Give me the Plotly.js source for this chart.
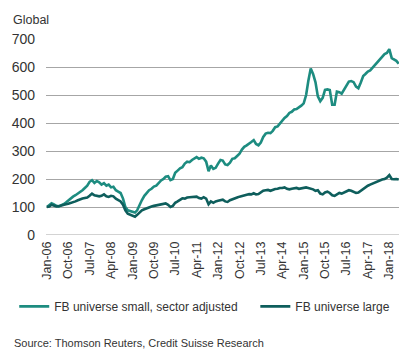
<!DOCTYPE html>
<html>
<head>
<meta charset="utf-8">
<script src="https://cdn.plot.ly/plotly-3.0.1.min.js"></script>
<style>
html,body{margin:0;padding:0;background:#fff;}
#chart{width:416px;height:357px;}
</style>
</head>
<body>
<div id="chart"></div>
<script>
// Monthly observations, Jan-06 .. May-18
const startYear = 2006;
const smallSectorAdjusted = [
  100, 106, 113, 109, 104, 102, 105, 110, 116, 124, 130, 137,   // 2006
  142, 148, 152, 160, 168, 176, 190, 196, 186, 193, 188, 180,   // 2007
  185, 176, 180, 170, 172, 160, 155, 150, 130, 100, 88, 85,     // 2008
  82, 80, 88, 110, 125, 140, 150, 160, 165, 173, 176, 185,      // 2009
  195, 200, 208, 210, 196, 200, 222, 230, 238, 242, 255, 262,   // 2010
  260, 268, 274, 278, 272, 276, 274, 262, 228, 248, 236, 240,   // 2011
  255, 268, 266, 252, 250, 258, 272, 274, 282, 290, 305, 315,   // 2012
  320, 325, 332, 339, 325, 320, 330, 350, 362, 365, 364, 372,   // 2013
  385, 388, 398, 410, 418, 425, 436, 440, 448, 450, 455, 462,   // 2014
  470, 500, 550, 595, 575, 545, 495, 478, 490, 518, 520, 518,   // 2015
  465, 465, 512, 510, 505, 520, 535, 548, 550, 546, 530, 524,   // 2016
  545, 568, 575, 584, 588, 598, 608, 614, 628, 636, 646, 650,   // 2017
  664, 632, 628, 622, 612                                       // 2018
];
const largeUniverse = [
  100, 102, 108, 104, 102, 103, 106, 108, 110, 112, 114, 118,   // 2006
  120, 124, 128, 130, 132, 134, 140, 148, 142, 140, 138, 140,   // 2007
  145, 138, 136, 140, 138, 130, 125, 120, 108, 88, 76, 72,      // 2008
  68, 65, 72, 82, 88, 92, 96, 100, 102, 104, 106, 108,          // 2009
  110, 112, 113, 108, 100, 104, 115, 120, 125, 131, 130, 134,   // 2010
  135, 136, 138, 137, 132, 130, 135, 130, 110, 120, 115, 120,   // 2011
  122, 124, 126, 120, 118, 124, 128, 130, 134, 137, 140, 142,   // 2012
  144, 146, 145, 149, 145, 146, 152, 158, 160, 161, 158, 162,   // 2013
  164, 165, 168, 168, 170, 165, 163, 165, 166, 168, 165, 166,   // 2014
  167, 170, 168, 166, 163, 158, 160, 148, 145, 152, 155, 150,   // 2015
  142, 140, 146, 150, 148, 152, 156, 160, 158, 154, 150, 152,   // 2016
  158, 165, 172, 176, 180, 184, 188, 192, 195, 198, 200, 205,   // 2017
  214, 200, 199, 200, 198                                       // 2018
];
const seriesNames = ["FB universe small, sector adjusted", "FB universe large"];
const seriesColors = ["#1d8c80", "#0e5e5c"];
const yTicks = [0, 100, 200, 300, 400, 500, 600, 700];
const unitLabel = "Global";
const sourceText = "Source: Thomson Reuters, Credit Suisse Research";

function monthDates(n) {
  const out = [];
  for (let i = 0; i < n; i++) {
    const y = startYear + Math.floor(i / 12);
    const m = (i % 12) + 1;
    out.push(y + "-" + String(m).padStart(2, "0") + "-01");
  }
  return out;
}
const dates = monthDates(smallSectorAdjusted.length);

const font = {family: "Liberation Sans, Arial, sans-serif", color: "#333333"};

const traces = [
  {x: dates, y: smallSectorAdjusted, name: seriesNames[0], type: "scatter", mode: "lines",
   legend: "legend", line: {color: seriesColors[0], width: 2.6}},
  {x: dates, y: largeUniverse, name: seriesNames[1], type: "scatter", mode: "lines",
   legend: "legend2", line: {color: seriesColors[1], width: 2.6}}
];

const legendBase = {
  orientation: "h", xanchor: "left", y: -0.29, yanchor: "top",
  font: Object.assign({size: 12}, font), bgcolor: "rgba(0,0,0,0)"
};

const layout = {
  width: 416, height: 357,
  margin: {l: 46, r: 17, t: 39, b: 122},
  paper_bgcolor: "#ffffff", plot_bgcolor: "#ffffff",
  font: Object.assign({size: 12}, font),
  showlegend: true,
  legend: Object.assign({x: -0.09}, legendBase),
  legend2: Object.assign({x: 0.593}, legendBase),
  xaxis: {
    type: "date",
    range: ["2005-12-20", "2018-05-05"],
    tick0: "2006-01-01", dtick: "M9", tickformat: "%b-%y",
    tickangle: -90, ticks: "", showgrid: false, zeroline: false, showline: false,
    ticklabelstandoff: 3,
    tickfont: Object.assign({size: 12.5}, font)
  },
  yaxis: {
    range: [0, 700], tickvals: yTicks, ticks: "",
    showgrid: true, gridcolor: "#a6a6a6", gridwidth: 1,
    zeroline: false, showline: false, ticklabelstandoff: 10,
    tickfont: Object.assign({size: 14}, font)
  },
  shapes: [
    {type: "line", xref: "paper", yref: "y", x0: 0, x1: 1, y0: 0, y1: 0,
     line: {color: "#a6a6a6", width: 1}}
  ],
  annotations: [
    {text: unitLabel, xref: "paper", yref: "paper", x: -0.1, y: 1.095,
     xanchor: "left", yanchor: "middle", showarrow: false,
     font: Object.assign({size: 12.5}, font)},
    {text: sourceText, xref: "paper", yref: "paper", x: -0.097, y: -0.55,
     xanchor: "left", yanchor: "middle", showarrow: false,
     font: Object.assign({size: 11}, font)}
  ]
};

Plotly.newPlot("chart", traces, layout, {displayModeBar: false, staticPlot: true});
</script>
</body>
</html>
